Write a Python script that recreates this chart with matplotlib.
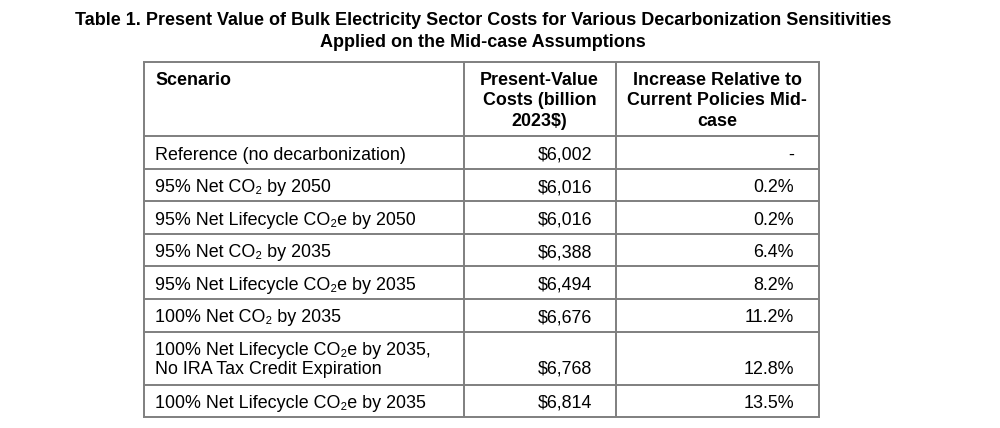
import matplotlib
matplotlib.use("Agg")
import matplotlib.pyplot as plt

title_lines = ["Table 1. Present Value of Bulk Electricity Sector Costs for Various Decarbonization Sensitivities",
               "Applied on the Mid-case Assumptions"]
headers = ["Scenario", "Present-Value\nCosts (billion\n2023$)", "Increase Relative to\nCurrent Policies Mid-\ncase"]
scenarios = [
    "Reference (no decarbonization)",
    "95% Net CO\u2082 by 2050",
    "95% Net Lifecycle CO\u2082e by 2050",
    "95% Net CO\u2082 by 2035",
    "95% Net Lifecycle CO\u2082e by 2035",
    "100% Net CO\u2082 by 2035",
    "100% Net Lifecycle CO\u2082e by 2035,\nNo IRA Tax Credit Expiration",
    "100% Net Lifecycle CO\u2082e by 2035",
]
costs = ["$6,002", "$6,016", "$6,016", "$6,388", "$6,494", "$6,676", "$6,768", "$6,814"]
increases = ["-", "0.2%", "0.2%", "6.4%", "8.2%", "11.2%", "12.8%", "13.5%"]

FAM = ["Liberation Sans", "DejaVu Sans"]
W, H = 1000, 428
fig = plt.figure(figsize=(W / 100, H / 100), dpi=100)
ax = fig.add_axes([0, 0, 1, 1])
ax.set_xlim(0, W)
ax.set_ylim(H, 0)
ax.axis("off")

# layout (pixels)
xcols = [144, 463.5, 615.5, 819]
yrows = [62, 136, 169, 201, 234, 266, 299, 332, 385, 417]
lc = "#7f7f7f"
lw = 1.4
for x in xcols:
    ax.plot([x, x], [yrows[0], yrows[-1]], color=lc, lw=lw, solid_capstyle="butt")
for y in yrows:
    ax.plot([xcols[0] - 0.7, xcols[-1] + 0.7], [y, y], color=lc, lw=lw, solid_capstyle="butt")

# title
tfam = ["Liberation Sans Narrow", "Liberation Sans"]
ax.text(483, 20, title_lines[0], ha="center", va="center", fontsize=13.0, fontweight="bold",
        family=tfam, fontstretch="condensed", color="black")
ax.text(483, 42, title_lines[1], ha="center", va="center", fontsize=13.0, fontweight="bold",
        family=tfam, fontstretch="condensed", color="black")

fs = 12.9
# headers
ax.text(155, 72, headers[0], ha="left", va="top", fontsize=fs, fontweight="bold", family=FAM,
        linespacing=1.25)
ax.text((xcols[1] + xcols[2]) / 2, 72, headers[1], ha="center", va="top", fontsize=fs,
        fontweight="bold", family=FAM, linespacing=1.25)
ax.text((xcols[2] + xcols[3]) / 2, 72, headers[2], ha="center", va="top", fontsize=fs,
        fontweight="bold", family=FAM, linespacing=1.25)

# body
for i, (s, c, p) in enumerate(zip(scenarios, costs, increases)):
    y0, y1 = yrows[i + 1], yrows[i + 2]
    if "\n" in s:
        ax.text(155, (y0 + y1) / 2 + 1.5, s, ha="left", va="center", fontsize=fs, family=FAM,
                linespacing=1.22)
        yn = y1 - 15.5
    else:
        ax.text(155, (y0 + y1) / 2 + 2.5, s, ha="left", va="center", fontsize=fs, family=FAM)
        yn = (y0 + y1) / 2 + 2.5
    ax.text(592, yn, c, ha="right", va="center", fontsize=fs, family=FAM)
    ax.text(794, yn, p, ha="right", va="center", fontsize=fs, family=FAM)

fig.savefig("out.png", dpi=100, facecolor="white")
